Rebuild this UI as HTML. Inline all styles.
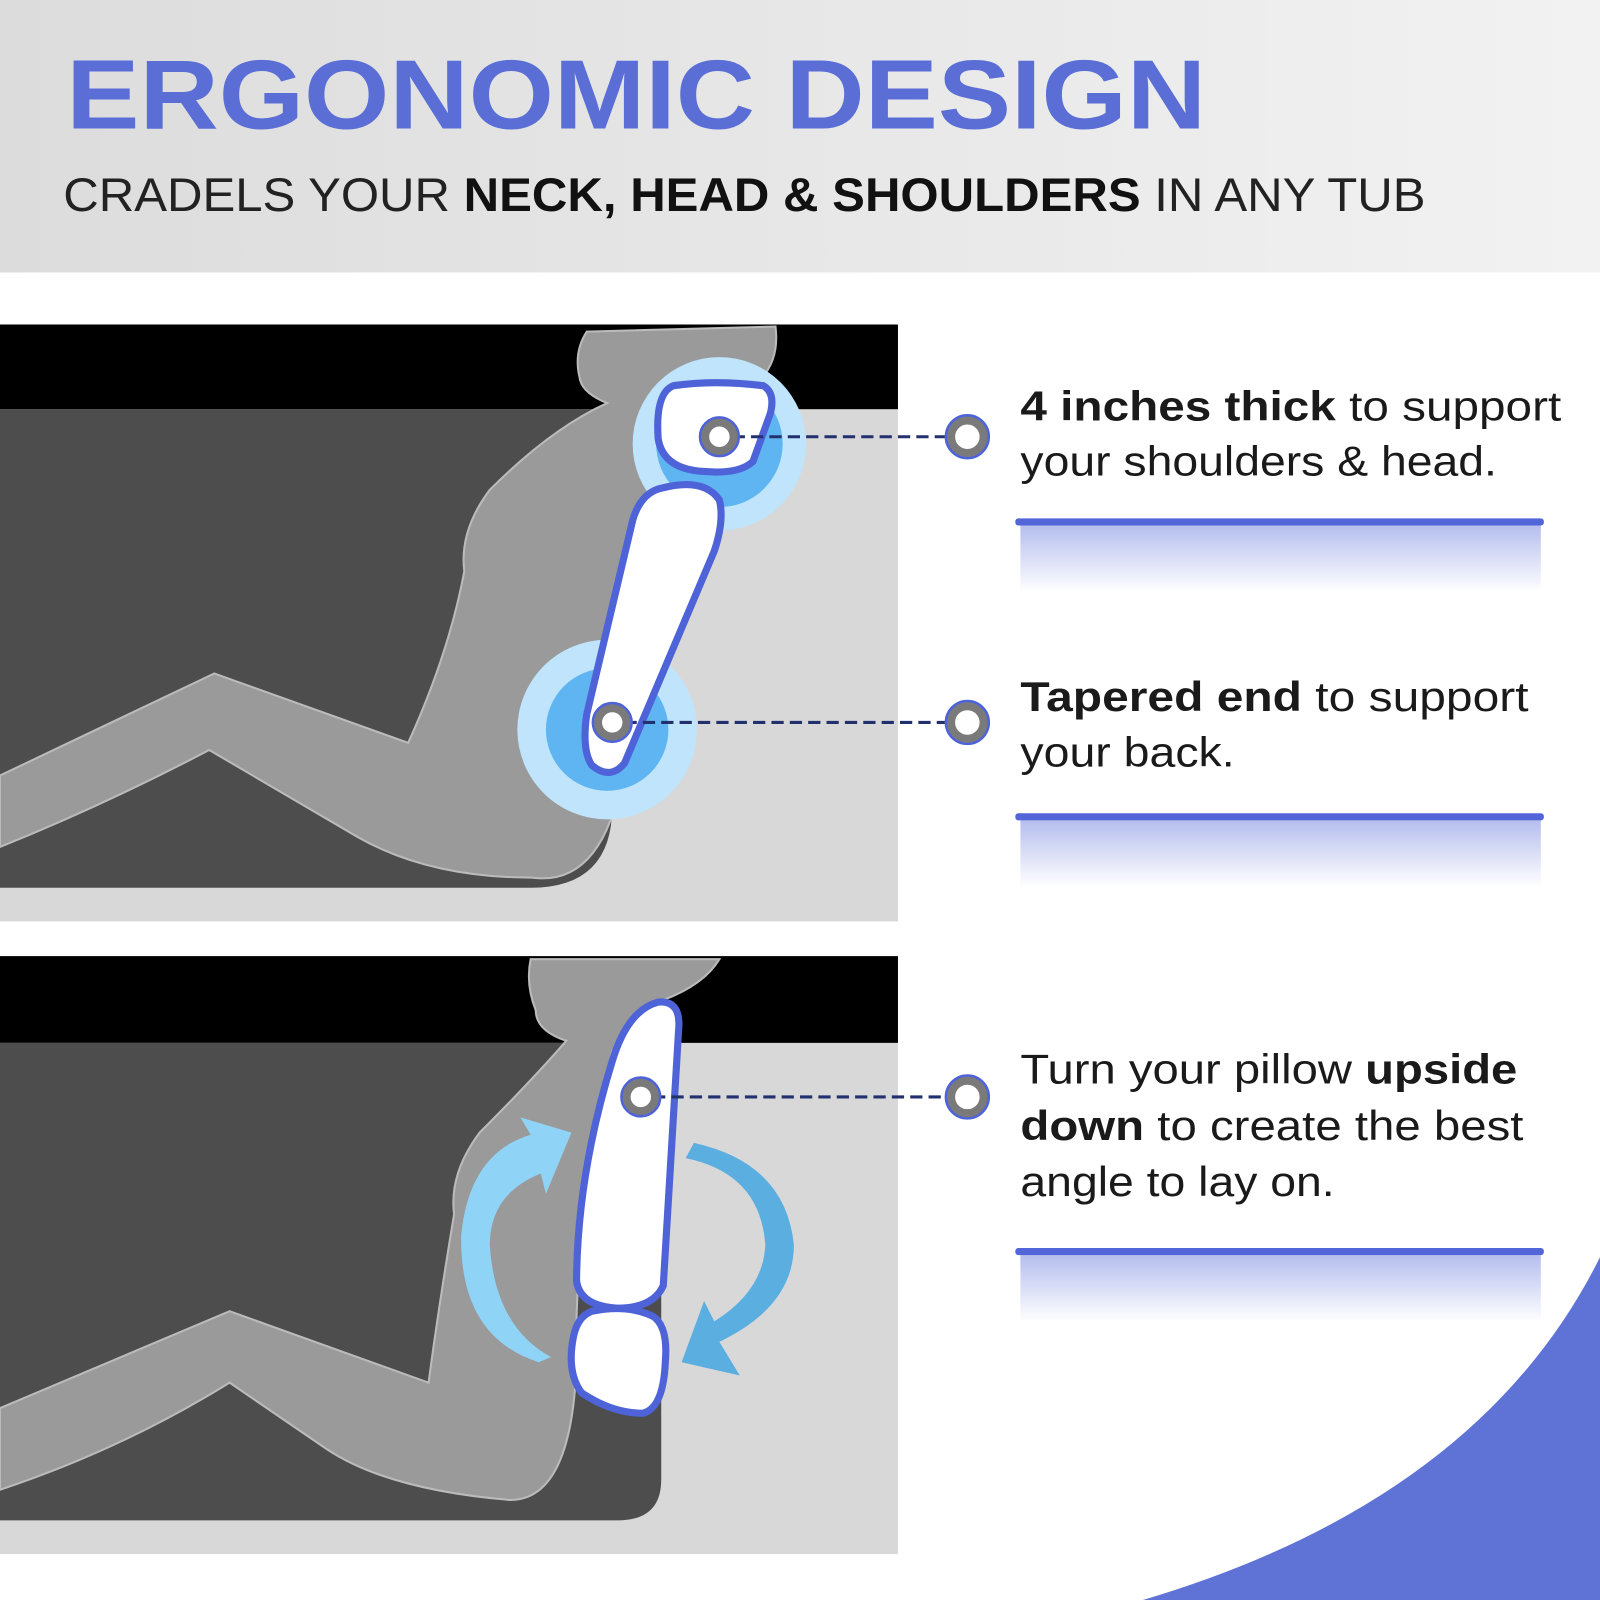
<!DOCTYPE html>
<html><head><meta charset="utf-8"><style>html,body{margin:0;padding:0;background:#fff}svg{display:block}</style></head>
<body>
<svg width="1600" height="1600" viewBox="0 0 1568 1568" xmlns="http://www.w3.org/2000/svg" font-family="Liberation Sans, sans-serif">
<defs>
<linearGradient id="hdr" x1="0" y1="0" x2="1" y2="0"><stop offset="0" stop-color="#dcdcdc"/><stop offset="1" stop-color="#f2f2f2"/></linearGradient>
<linearGradient id="fade" x1="0" y1="0" x2="0" y2="1"><stop offset="0" stop-color="#5b6fd8" stop-opacity="0.45"/><stop offset="1" stop-color="#5b6fd8" stop-opacity="0"/></linearGradient>
</defs>
<rect width="1568" height="1568" fill="#fff"/>
<rect width="1568" height="267" fill="url(#hdr)"/>
<text x="65" y="126" font-size="96" font-weight="bold" fill="#5a6ed6" textLength="1117" lengthAdjust="spacingAndGlyphs">ERGONOMIC DESIGN</text>
<text x="62" y="207" font-size="46" fill="#222" textLength="1335" lengthAdjust="spacingAndGlyphs">CRADELS YOUR <tspan font-weight="bold" fill="#111">NECK, HEAD &amp; SHOULDERS</tspan> IN ANY TUB</text>

<!-- Panel 1 -->
<rect x="0" y="318" width="880" height="585" fill="#d8d8d8"/>
<rect x="0" y="318" width="880" height="83" fill="#000"/>
<path d="M0 401 H600 V790 Q600 870 520 870 H0 Z" fill="#4d4d4d"/>
<path d="M0 760 L210 660 L400 728 Q440 640 455 560 Q450 520 480 480 Q540 420 595 395 Q570 385 568 370 Q562 345 575 325 L760 320 Q765 360 735 380 L690 500 Q640 620 610 760 Q590 870 520 860 Q420 860 350 820 L205 735 Q100 790 0 830 Z" fill="#9a9a9a" stroke="#bbb" stroke-width="2"/>
<circle cx="705" cy="435" r="85" fill="#bfe4fb"/>
<circle cx="705" cy="435" r="62" fill="#5fb5f2"/>
<circle cx="595" cy="715" r="88" fill="#bfe4fb"/>
<circle cx="595" cy="715" r="60" fill="#5fb5f2"/>
<path d="M660 378 Q700 372 748 378 Q760 385 755 405 L738 452 Q725 465 690 462 Q650 460 645 430 Q642 385 660 378 Z" fill="#fff" stroke="#4f63d8" stroke-width="7"/>
<path d="M650 478 Q690 468 705 490 Q710 510 700 540 L612 748 Q598 765 580 750 Q570 735 575 700 L620 510 Q628 482 650 478 Z" fill="#fff" stroke="#4f63d8" stroke-width="7"/>
<line x1="718" y1="428" x2="935" y2="428" stroke="#23306e" stroke-width="3" stroke-dasharray="12 6"/>
<line x1="612" y1="708" x2="935" y2="708" stroke="#23306e" stroke-width="3" stroke-dasharray="12 6"/>

<!-- Panel 2 -->
<rect x="0" y="937" width="880" height="586" fill="#d8d8d8"/>
<rect x="0" y="937" width="880" height="85" fill="#000"/>
<path d="M0 1022 H648 V1450 Q648 1490 605 1490 H0 Z" fill="#4d4d4d"/>
<path d="M0 1380 L225 1285 L420 1355 Q430 1280 445 1190 Q440 1150 470 1110 Q520 1060 555 1020 Q525 1010 525 990 Q515 965 520 940 L705 940 Q690 965 650 980 L600 1030 Q570 1150 565 1290 Q570 1470 500 1470 Q380 1460 320 1420 L225 1355 Q120 1420 0 1460 Z" fill="#9a9a9a" stroke="#bbb" stroke-width="2"/>
<path d="M528 1335 Q450 1310 452 1210 Q460 1130 520 1112 L510 1095 L560 1110 L535 1170 L530 1150 Q480 1170 480 1220 Q485 1300 540 1330 Z" fill="#8fd3f7"/>
<path d="M680 1120 Q770 1140 778 1220 Q778 1280 705 1315 L725 1348 L668 1335 L690 1275 L700 1295 Q748 1265 750 1220 Q745 1150 672 1135 Z" fill="#5aaee0"/>
<path d="M645 982 Q668 980 665 1010 L650 1260 Q640 1282 605 1282 Q568 1280 565 1255 Q566 1150 600 1040 Q615 990 645 982 Z" fill="#fff" stroke="#4f63d8" stroke-width="7"/>
<path d="M580 1285 Q615 1278 640 1290 Q655 1300 652 1335 Q650 1380 630 1385 Q600 1385 570 1365 Q555 1345 562 1310 Q566 1290 580 1285 Z" fill="#fff" stroke="#4f63d8" stroke-width="7"/>
<line x1="640" y1="1075" x2="935" y2="1075" stroke="#23306e" stroke-width="3" stroke-dasharray="12 6"/>

<!-- dots -->
<g fill="#fff" stroke="#7a7a7a" stroke-width="8">
<circle cx="705" cy="428" r="14"/><circle cx="600" cy="708" r="14"/><circle cx="628" cy="1075" r="14"/>
<circle cx="948" cy="428" r="16"/><circle cx="948" cy="708" r="16"/><circle cx="948" cy="1075" r="16"/>
</g>
<g fill="none" stroke="#4f63d8" stroke-width="2.5">
<circle cx="705" cy="428" r="19"/><circle cx="600" cy="708" r="19"/><circle cx="628" cy="1075" r="19"/>
<circle cx="948" cy="428" r="21"/><circle cx="948" cy="708" r="21"/><circle cx="948" cy="1075" r="21"/>
</g>

<!-- text -->
<g font-size="41" fill="#1a1a1a">
<text x="1000" y="412" textLength="530" lengthAdjust="spacingAndGlyphs"><tspan font-weight="bold">4 inches thick</tspan> to support</text>
<text x="1000" y="466" textLength="467" lengthAdjust="spacingAndGlyphs">your shoulders &amp; head.</text>
<text x="1000" y="697" textLength="498" lengthAdjust="spacingAndGlyphs"><tspan font-weight="bold">Tapered end</tspan> to support</text>
<text x="1000" y="751" textLength="210" lengthAdjust="spacingAndGlyphs">your back.</text>
<text x="1000" y="1062" textLength="487" lengthAdjust="spacingAndGlyphs">Turn your pillow <tspan font-weight="bold">upside</tspan></text>
<text x="1000" y="1117" textLength="493" lengthAdjust="spacingAndGlyphs"><tspan font-weight="bold">down</tspan> to create the best</text>
<text x="1000" y="1172" textLength="308" lengthAdjust="spacingAndGlyphs">angle to lay on.</text>
</g>

<!-- blue lines -->
<rect x="995" y="508" width="518" height="7" rx="3" fill="#5366d9"/>
<rect x="1000" y="515" width="510" height="65" fill="url(#fade)"/>
<rect x="995" y="797" width="518" height="7" rx="3" fill="#5366d9"/>
<rect x="1000" y="804" width="510" height="65" fill="url(#fade)"/>
<rect x="995" y="1223" width="518" height="7" rx="3" fill="#5366d9"/>
<rect x="1000" y="1230" width="510" height="65" fill="url(#fade)"/>

<!-- corner -->
<path d="M1568 1232 Q1450 1470 1120 1568 L1568 1568 Z" fill="#5f72d6"/>
</svg>
</body></html>
